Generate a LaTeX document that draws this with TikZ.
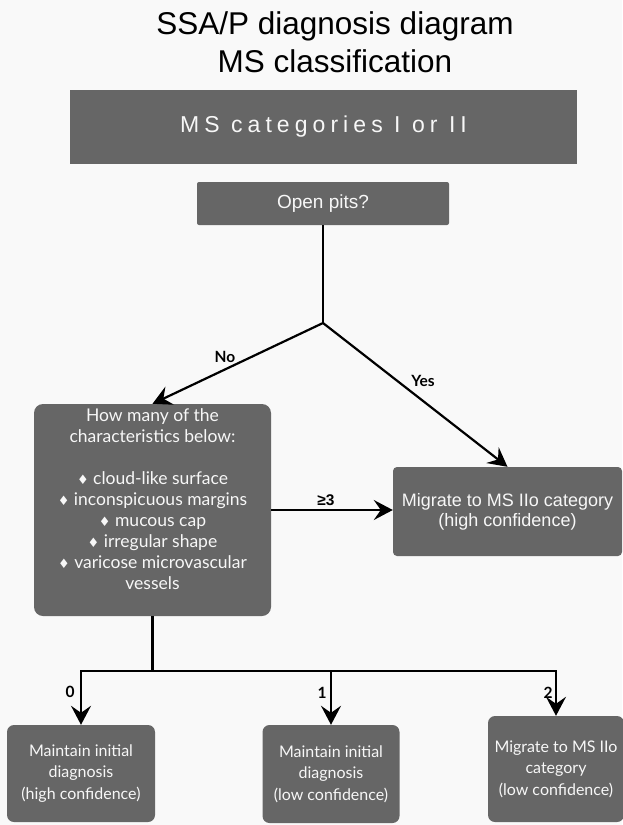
\documentclass[tikz,border=0pt]{standalone}
\usepackage{fontspec}
\setmainfont{Liberation Sans}
\newfontfamily\lato{Lato}
\newfontfamily\dejavu{DejaVu Sans}
\usetikzlibrary{arrows.meta}
\definecolor{boxgray}{HTML}{666666}
\definecolor{bgcol}{HTML}{F9F9F9}
\definecolor{boxtext}{HTML}{F7F7F7}
\newcommand{\dia}{{\dejavu\fontsize{13}{21}\selectfont ♦}}
\begin{document}
\begin{tikzpicture}[x=1pt,y=-1pt,
  box/.style={fill=boxgray, text=boxtext, inner sep=0pt, align=center, anchor=center},
  conn/.style={line width=2.2pt, black},
  arr/.style={conn, -{Stealth[length=19pt,width=20pt,inset=7pt]}},
  lbl/.style={font=\lato\bfseries\fontsize{15.5}{18}\selectfont, inner sep=0pt},
  latotxt/.style={font=\lato\fontsize{16}{21.5}\selectfont}
]
\fill[bgcol] (0,0) rectangle (622,825);
\useasboundingbox (0,0) rectangle (622,825);

\node[font=\fontsize{31.5}{38}\selectfont, align=center, inner sep=0pt] (title) at (335,42) {SSA/P diagnosis diagram\\MS classification};

\node[box, minimum width=507pt, minimum height=74pt, font=\fontsize{23}{26}\selectfont\addfontfeatures{LetterSpace=22}] (b1) at (323.5,127) {MS categories I or II};

\node[box, rounded corners=2pt, minimum width=252pt, minimum height=43pt, font=\fontsize{19}{22}\selectfont] (b2) at (323,203.5) {Open pits?};

\node[box, rounded corners=9pt, minimum width=237pt, minimum height=212pt, font=\lato\fontsize{17.5}{21}\selectfont] (b3) at (152.5,510) {How many of the\\characteristics below:\\[21pt]\dia\ cloud-like surface\\\dia\ inconspicuous margins\\\dia\ mucous cap\\\dia\ irregular shape\\\dia\ varicose microvascular\\vessels\\ \mbox{}};

\node[box, rounded corners=4pt, minimum width=229pt, minimum height=89pt, font=\fontsize{18}{20}\selectfont] (b4) at (507.5,511.5) {Migrate to MS IIo category\\(high confidence)};

\node[box, rounded corners=7pt, minimum width=148pt, minimum height=97pt, latotxt] (b5) at (81,773.5) {Maintain initial\\diagnosis\\(high confidence)};
\node[box, rounded corners=7pt, minimum width=137pt, minimum height=98pt, latotxt] (b6) at (331,774) {Maintain initial\\diagnosis\\(low confidence)};
\node[box, rounded corners=7pt, minimum width=136pt, minimum height=106pt, latotxt] (b7) at (556,769) {Migrate to MS IIo\\category\\(low confidence)};

\coordinate (j) at (323,323);
\draw[conn] (b2.south) -- (j);
\draw[arr] (j) -- (b3.north);
\draw[arr] (j) -- (b4.north);
\node[lbl] (lno) at (225,357) {No};
\node[lbl] (lyes) at (423,381) {Yes};

\draw[arr] (b3.east) -- (b3.east -| b4.west);
\node[font=\bfseries\fontsize{15.5}{15}\selectfont, inner sep=0pt] (lge) at (326,500) {≥3};

\coordinate (h) at (152.5,671);
\draw[conn] (b3.south) -- (h);
\draw[arr] (h) -| (b5.north);
\draw[arr] (h) -| (b7.north);
\draw[arr] (b6.north |- h) -- (b6.north);
\node[lbl] (l0) at (70,692) {0};
\node[lbl] (l1) at (322,693) {1};
\node[lbl] (l2) at (548,693) {2};
\end{tikzpicture}
\end{document}
